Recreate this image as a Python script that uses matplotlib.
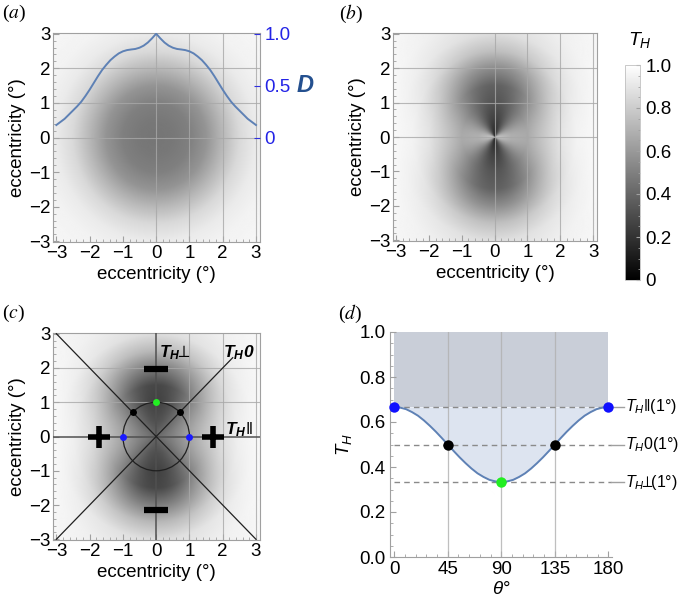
import numpy as np
import matplotlib
matplotlib.use('Agg')
import matplotlib.pyplot as plt
from matplotlib.ticker import MultipleLocator, FixedLocator
from matplotlib.patches import Circle

plt.rcParams['font.family'] = ['Liberation Sans', 'DejaVu Sans']
plt.rcParams['mathtext.fontset'] = 'custom'
plt.rcParams['mathtext.rm'] = 'Liberation Sans'
plt.rcParams['mathtext.it'] = 'Liberation Sans:italic'
plt.rcParams['mathtext.bf'] = 'Liberation Sans:italic:bold'
plt.rcParams['mathtext.fallback'] = 'stixsans'

# ---------------- data ----------------
ecc_ticks = [-3, -2, -1, 0, 1, 2, 3]
grid_x = [0, 1, 2, 3]
grid_y = [0, 1, 2]

# radial profile of the angle-averaged T_H (panel a)
prof_r = [0.0, 0.5, 1.0, 1.5, 2.0, 2.5, 3.0, 3.5, 4.5]
prof_mean = [0.46, 0.47, 0.50, 0.58, 0.72, 0.85, 0.92, 0.95, 0.97]
# anisotropy amplitude (cos 2theta) of T_H, panel b
amp_r = [0.0, 0.25, 0.5, 1.0, 1.5, 2.0, 2.5, 3.0, 4.5]
amp_b = [0.32, 0.27, 0.22, 0.167, 0.20, 0.17, 0.10, 0.05, 0.01]
# panel c
prof_mean_c = [0.40, 0.41, 0.45, 0.52, 0.68, 0.83, 0.92, 0.95, 0.97]
amp_c = [0.0, 0.05, 0.10, 0.19, 0.24, 0.19, 0.11, 0.05, 0.01]

# D curve (panel a)
d_ecc = [-3.0, -2.875, -2.75, -2.625, -2.5, -2.375, -2.25, -2.125, -2.0, -1.875,
         -1.75, -1.625, -1.5, -1.375, -1.25, -1.125, -1.0, -0.875, -0.75, -0.625,
         -0.5, -0.375, -0.25, -0.125, 0.0,
         0.125, 0.25, 0.375, 0.5, 0.625, 0.75, 0.875, 1.0, 1.125, 1.25, 1.375,
         1.5, 1.625, 1.75, 1.875, 2.0, 2.125, 2.25, 2.375, 2.5, 2.625, 2.75,
         2.875, 3.0]
d_val = [0.12, 0.15, 0.18, 0.22, 0.26, 0.30, 0.345, 0.40, 0.46, 0.525,
         0.59, 0.65, 0.70, 0.745, 0.78, 0.81, 0.83, 0.842, 0.848, 0.853,
         0.865, 0.885, 0.915, 0.955, 1.0,
         0.955, 0.915, 0.885, 0.865, 0.853, 0.848, 0.842, 0.83, 0.81, 0.78, 0.745,
         0.70, 0.65, 0.59, 0.525, 0.46, 0.40, 0.345, 0.30, 0.26, 0.22, 0.18,
         0.15, 0.12]
d_ticks = [0, 0.5, 1.0]
d_ticklabels = ['0', '0.5', '1.0']

# panel c annotations
diag1_x, diag1_y = [-3, 3], [3, -3]
diag2_x, diag2_y = [-3, 2.3], [-3, 2.3]
circle_r = 1.0
pts_green = ([0.0], [1.0])
pts_black = ([-0.707, 0.707], [0.707, 0.707])
pts_blue = ([-1.0, 1.0], [0.0, 0.0])
plus_x, plus_y = [-1.73, 1.72], [0.0, 0.0]
minus_x, minus_y = [0.0, 0.0], [1.98, -2.15]

# panel d
theta = [0, 5, 10, 15, 20, 25, 30, 35, 40, 45, 50, 55, 60, 65, 70, 75, 80, 85, 90,
         95, 100, 105, 110, 115, 120, 125, 130, 135, 140, 145, 150, 155, 160, 165,
         170, 175, 180]
th_val = [0.667, 0.664, 0.657, 0.644, 0.628, 0.607, 0.583, 0.557, 0.529, 0.500,
          0.471, 0.443, 0.417, 0.393, 0.372, 0.356, 0.343, 0.336, 0.333,
          0.336, 0.343, 0.356, 0.372, 0.393, 0.417, 0.443, 0.471, 0.500, 0.529,
          0.557, 0.583, 0.607, 0.628, 0.644, 0.657, 0.664, 0.667]
th_par, th_zero, th_perp = 0.667, 0.500, 0.333
theta_ticks = [0, 45, 90, 135, 180]
th_ticks = [0.0, 0.2, 0.4, 0.6, 0.8, 1.0]
cb_ticks = [0, 0.2, 0.4, 0.6, 0.8, 1.0]
cb_ticklabels = ['0', '0.2', '0.4', '0.6', '0.8', '1.0']

# ---------------- helpers ----------------
W, H = 685, 598
fig = plt.figure(figsize=(W / 100, H / 100), dpi=100)


def ax_px(l, t, r, b):
    return fig.add_axes([l / W, 1 - b / H, (r - l) / W, (b - t) / H])


FS = 13.5
XL, YL = (-3.1, 3.12), (-3.02, 3.02)
SPC = '#a0a0a0'


def field(mr, mv, ar, av):
    xs = np.linspace(XL[0], XL[1], 401)
    ys = np.linspace(YL[0], YL[1], 401)
    X, Y = np.meshgrid(xs, ys)
    R = np.hypot(X, Y)
    R2 = np.where(R > 0, R ** 2, 1.0)
    cos2 = np.where(R > 0, (X ** 2 - Y ** 2) / R2, 0.0)
    return np.clip(np.interp(R, mr, mv) + np.interp(R, ar, av) * cos2, 0, 1)


def style_ecc(ax, dark_axes=False):
    ax.set_xlim(*XL)
    ax.set_ylim(*YL)
    ax.set_xticks(ecc_ticks)
    ax.set_yticks(ecc_ticks)
    ax.set_xticklabels(['\u22123', '\u22122', '\u22121', '0', '1', '2', '3'])
    ax.set_yticklabels(['\u22123', '\u22122', '\u22121', '0', '1', '2', '3'])
    ax.xaxis.set_minor_locator(MultipleLocator(0.2))
    ax.yaxis.set_minor_locator(MultipleLocator(0.2))
    ax.tick_params(which='major', direction='in', length=4, color=SPC,
                   labelsize=FS, pad=2)
    ax.tick_params(which='minor', direction='in', length=2, color=SPC)
    for s in ax.spines.values():
        s.set_color(SPC)
        s.set_linewidth(0.8)
    ax.set_xlabel('eccentricity (\u00b0)', fontsize=FS, labelpad=3)
    ax.set_ylabel('eccentricity (\u00b0)', fontsize=FS, labelpad=2)
    for gx in grid_x:
        if dark_axes and gx == 0:
            continue
        ax.axvline(gx, color='#a8a8a8', lw=0.8, alpha=0.8, zorder=2)
    for gy in grid_y:
        if dark_axes and gy == 0:
            continue
        ax.axhline(gy, color='#a8a8a8', lw=0.8, alpha=0.8, zorder=2)


imkw = dict(origin='lower', extent=(XL[0], XL[1], YL[0], YL[1]), cmap='gray',
            vmin=0, vmax=1, aspect='auto', interpolation='bilinear', zorder=1)

# ---------------- panel a ----------------
axa = ax_px(53, 33, 260, 242)
axa.imshow(field(prof_r, prof_mean, amp_r, [0] * len(amp_r)), **imkw)
style_ecc(axa)
axd2 = axa.twinx()
axd2.set_ylim(YL[0] / 3, YL[1] / 3)
axd2.plot(d_ecc, d_val, color='#5E81B5', lw=1.4)
axd2.set_yticks(d_ticks)
axd2.set_yticklabels(d_ticklabels)
axd2.yaxis.set_minor_locator(FixedLocator([]))
axd2.tick_params(axis='y', direction='in', length=4, color='#3030e0',
                 labelcolor='#2323e6', labelsize=FS, pad=3)
for s in axd2.spines.values():
    s.set_visible(False)
fig.text(297 / W, 1 - 86 / H, 'D', fontsize=17, fontweight='bold',
         fontstyle='italic', color='#24508f', va='center', ha='left')

# ---------------- panel b ----------------
axb = ax_px(393, 33, 597, 241)
imb = axb.imshow(field(prof_r, prof_mean, amp_r, amp_b), **imkw)
style_ecc(axb)
cax = ax_px(625, 65, 640, 280)
cb = fig.colorbar(imb, cax=cax, ticks=cb_ticks)
cb.ax.set_yticklabels(cb_ticklabels)
cb.ax.tick_params(direction='in', length=3, color=SPC, labelsize=FS, pad=4)
cb.ax.yaxis.set_minor_locator(MultipleLocator(0.05))
cb.ax.tick_params(which='minor', direction='in', length=1.5, color=SPC)
cb.outline.set_edgecolor('#c0c0c0')
cb.outline.set_linewidth(0.6)
fig.text(640 / W, 1 - 40 / H, '$T_H$', fontsize=14, ha='center', va='center')

# ---------------- panel c ----------------
axc = ax_px(53, 333, 260, 540)
axc.imshow(field(prof_r, prof_mean_c, amp_r, amp_c), **imkw)
style_ecc(axc, dark_axes=True)
axc.axvline(0, color='#505050', lw=1.1, zorder=3)
axc.axhline(0, color='#505050', lw=1.1, zorder=3)
axc.plot(diag1_x, diag1_y, color='#202020', lw=0.9, zorder=4)
axc.plot(diag2_x, diag2_y, color='#202020', lw=0.9, zorder=4)
axc.add_patch(Circle((0, 0), circle_r, fill=False, ec='#202020', lw=0.9, zorder=4))
axc.plot(*pts_green, 'o', color='#22ee22', ms=5, mec='none', zorder=6)
axc.plot(*pts_black, 'o', color='black', ms=5, mec='none', zorder=6)
axc.plot(*pts_blue, 'o', color='#1a1aff', ms=5, mec='none', zorder=6)
axc.plot(plus_x, plus_y, '+', color='black', ms=16, mew=4, zorder=6)
axc.plot(minus_x, minus_y, '_', color='black', ms=17, mew=4.5, zorder=6)
axc.text(0.1, 2.45, r'$\mathbf{T}_\mathbf{H}\!\!\bot$',
         fontsize=12.5, va='center', ha='left', zorder=7)
axc.text(2.0, 2.45, r'$\mathbf{T}_\mathbf{H}\mathbf{0}$', fontsize=12.5,
         va='center', ha='left', zorder=7)
axc.text(2.07, 0.2, r'$\mathbf{T}_\mathbf{H}\Vert$',
         fontsize=12.5, va='center', ha='left', zorder=7)

# ---------------- panel d ----------------
axd = ax_px(390, 332, 612, 557)
axd.set_xlim(-3.5, 183)
axd.set_ylim(0, 1.0)
axd.fill_between(theta, th_par, 1.0, color='#c9ced8', lw=0, zorder=1)
axd.fill_between(theta, th_val, th_par, color='#dde4f0', lw=0, zorder=1)
for tx in theta_ticks[1:4]:
    axd.axvline(tx, color='#b0b0b0', lw=0.9, alpha=0.8, zorder=2)
for lvl in (th_par, th_zero, th_perp):
    axd.plot([0, 182], [lvl, lvl], color='#8a8a8a', lw=1.0, ls=(0, (4, 3)),
             zorder=3, clip_on=False)
    axd.plot([182, 193], [lvl, lvl], color='#a0a0a0', lw=1.0, zorder=3,
             clip_on=False)
axd.plot(theta, th_val, color='#5E81B5', lw=1.4, zorder=4)
axd.plot([0, 180], [th_par, th_par], 'o', color='#1010ff', ms=7.5, mec='none',
         zorder=6, clip_on=False)
axd.plot([45, 135], [th_zero, th_zero], 'o', color='black', ms=7.5, mec='none',
         zorder=6, clip_on=False)
axd.plot([90], [th_perp], 'o', color='#22ee22', ms=7.5, mec='none', zorder=6,
         clip_on=False)
LFS = 11.5
axd.text(194, th_par, r'$T_H\Vert$(1$\degree$)', fontsize=LFS, va='center', ha='left')
axd.text(194, th_zero, r'$T_H$0(1$\degree$)', fontsize=LFS, va='center', ha='left')
axd.text(194, th_perp, r'$T_H\!\!\bot\!\!$(1$\degree$)', fontsize=LFS,
         va='center', ha='left')
axd.set_xticks(theta_ticks)
axd.set_yticks(th_ticks)
axd.set_yticklabels(['0.0', '0.2', '0.4', '0.6', '0.8', '1.0'])
axd.yaxis.set_minor_locator(MultipleLocator(0.05))
axd.xaxis.set_minor_locator(MultipleLocator(9))
axd.tick_params(which='major', direction='in', length=4, color=SPC,
                labelsize=FS, pad=3)
axd.tick_params(which='minor', direction='in', length=2, color=SPC)
for side in ('top', 'right'):
    axd.spines[side].set_visible(False)
for side in ('left', 'bottom'):
    axd.spines[side].set_color(SPC)
    axd.spines[side].set_linewidth(0.8)
axd.set_xlabel(r'$\theta\degree$', fontsize=FS, labelpad=2)
axd.set_ylabel('$T_H$', fontsize=FS, labelpad=4)

# ---------------- panel labels ----------------
for (px, py, lab) in [(2, 3, 'a'), (339, 3, 'b'), (2, 303, 'c'), (338, 303, 'd')]:
    fig.text(px / W, 1 - py / H, '(' + r'$\it{' + lab + '}$' + ')', fontsize=14,
             family='Liberation Serif', va='top', ha='left',
             math_fontfamily='stix')

fig.savefig('out.png', dpi=100)
